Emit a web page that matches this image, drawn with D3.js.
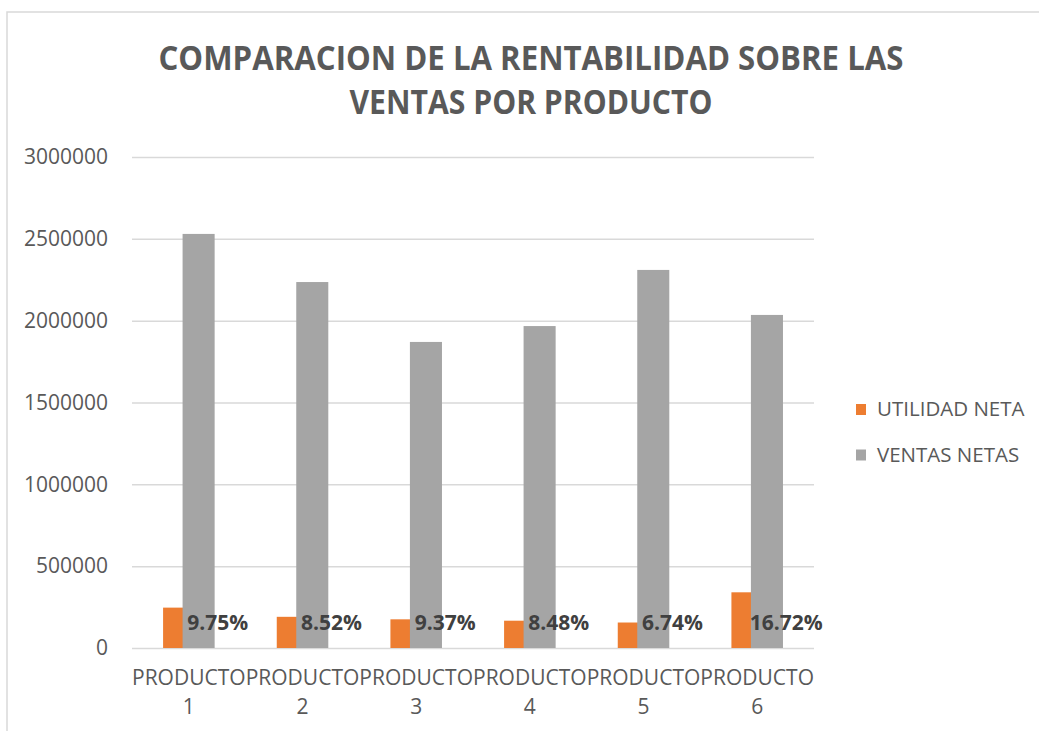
<!DOCTYPE html>
<html>
<head>
<meta charset="utf-8">
<script src="https://cdn.jsdelivr.net/npm/d3@7"></script>
<style>
    body { margin: 0; background: #fff; }
    text { font-family: "Open Sans", sans-serif; }
</style>
</head>
<body>
<div id="chart"></div>
<script>
// chart data
let categories = ["1", "2", "3", "4", "5", "6"];
let utilidadNeta = [246700, 190500, 175200, 166800, 155700, 340300];
let ventasNetas = [2530000, 2236000, 1870000, 1967000, 2310000, 2035000];
let pctLabels = ["9.75%", "8.52%", "9.37%", "8.48%", "6.74%", "16.72%"];
let yTicks = [0, 500000, 1000000, 1500000, 2000000, 2500000, 3000000];
let seriesNames = ["UTILIDAD NETA", "VENTAS NETAS"];
let titleLines = ["COMPARACION DE LA RENTABILIDAD SOBRE LAS", "VENTAS POR PRODUCTO"];

let colors = ["#ed7d31", "#a5a5a5"];

let W = 1039, H = 731;
let margin = {top: 157, left: 132, right: W - 814, bottom: H - 648};
let width = W - margin.left - margin.right;
let height = H - margin.top - margin.bottom;

let svg = d3.select("#chart").append("svg")
    .attr("width", W)
    .attr("height", H);

// chart border
svg.append("rect")
    .attr("x", 7).attr("y", 12)
    .attr("width", 1200).attr("height", 900)
    .attr("fill", "none")
    .attr("stroke", "#d9d9d9")
    .attr("stroke-width", 1.5);

// title
svg.append("g").selectAll("text")
    .data(titleLines)
    .enter().append("text")
    .attr("x", 531)
    .attr("y", (d, i) => 70 + i * 44)
    .attr("text-anchor", "middle")
    .attr("font-size", 34)
    .attr("font-weight", "bold")
    .attr("fill", "#595959")
    .attr("textLength", (d, i) => i === 0 ? 745 : 363)
    .attr("lengthAdjust", "spacingAndGlyphs")
    .text(d => d);

let g = svg.append("g")
    .attr("transform", "translate(" + margin.left + "," + margin.top + ")");

// scales
let x = d3.scaleBand().domain(categories).range([0, width]).padding(0);
let y = d3.scaleLinear().domain([0, 3000000]).range([height, 0]);

// y axis + gridlines
let yAxis = g.append("g")
    .call(d3.axisLeft(y).tickValues(yTicks).tickSize(-width).tickPadding(24).tickFormat(d3.format("d")));
yAxis.select(".domain").remove();
yAxis.selectAll("line").attr("stroke", "#d9d9d9").attr("stroke-width", 1.5);
yAxis.selectAll("text")
    .attr("font-size", 21)
    .attr("fill", "#595959")
    .attr("font-family", "Open Sans");

// bars (overlapping like the Excel layout)
let barW = x.bandwidth() * 0.282;
let offsets = [-x.bandwidth() * 0.2265, -x.bandwidth() * 0.055];

[utilidadNeta, ventasNetas].forEach(function(series, s) {
    g.append("g").selectAll("rect")
        .data(series)
        .enter().append("rect")
        .attr("x", (d, i) => x(categories[i]) + x.bandwidth() / 2 + offsets[s])
        .attr("y", d => y(d))
        .attr("width", barW)
        .attr("height", d => y(0) - y(d))
        .attr("fill", colors[s]);
});

// percentage labels
g.append("g").selectAll("text")
    .data(pctLabels)
    .enter().append("text")
    .attr("x", (d, i) => x(categories[i]) + x.bandwidth() / 2 + 29)
    .attr("y", y(0) - 18)
    .attr("text-anchor", "middle")
    .attr("font-size", 21)
    .attr("font-weight", "bold")
    .attr("fill", "#404040")
    .text(d => d);

// x axis labels (two lines)
let xLab = g.append("g").selectAll("text")
    .data(categories)
    .enter().append("text")
    .attr("text-anchor", "middle")
    .attr("font-size", 21)
    .attr("fill", "#595959");
xLab.append("tspan")
    .attr("x", d => x(d) + x.bandwidth() / 2)
    .attr("y", height + 37)
    .text("PRODUCTO");
xLab.append("tspan")
    .attr("x", d => x(d) + x.bandwidth() / 2)
    .attr("y", height + 66)
    .text(d => d);

// legend
let legend = svg.append("g").selectAll("g")
    .data(seriesNames)
    .enter().append("g")
    .attr("transform", (d, i) => "translate(856," + (404 + i * 45.5) + ")");
legend.append("rect")
    .attr("width", 10).attr("height", 11)
    .attr("fill", (d, i) => colors[i]);
legend.append("text")
    .attr("x", 21)
    .attr("y", 12)
    .attr("font-size", 20.5)
    .attr("fill", "#595959")
    .text(d => d);
</script>
</body>
</html>
